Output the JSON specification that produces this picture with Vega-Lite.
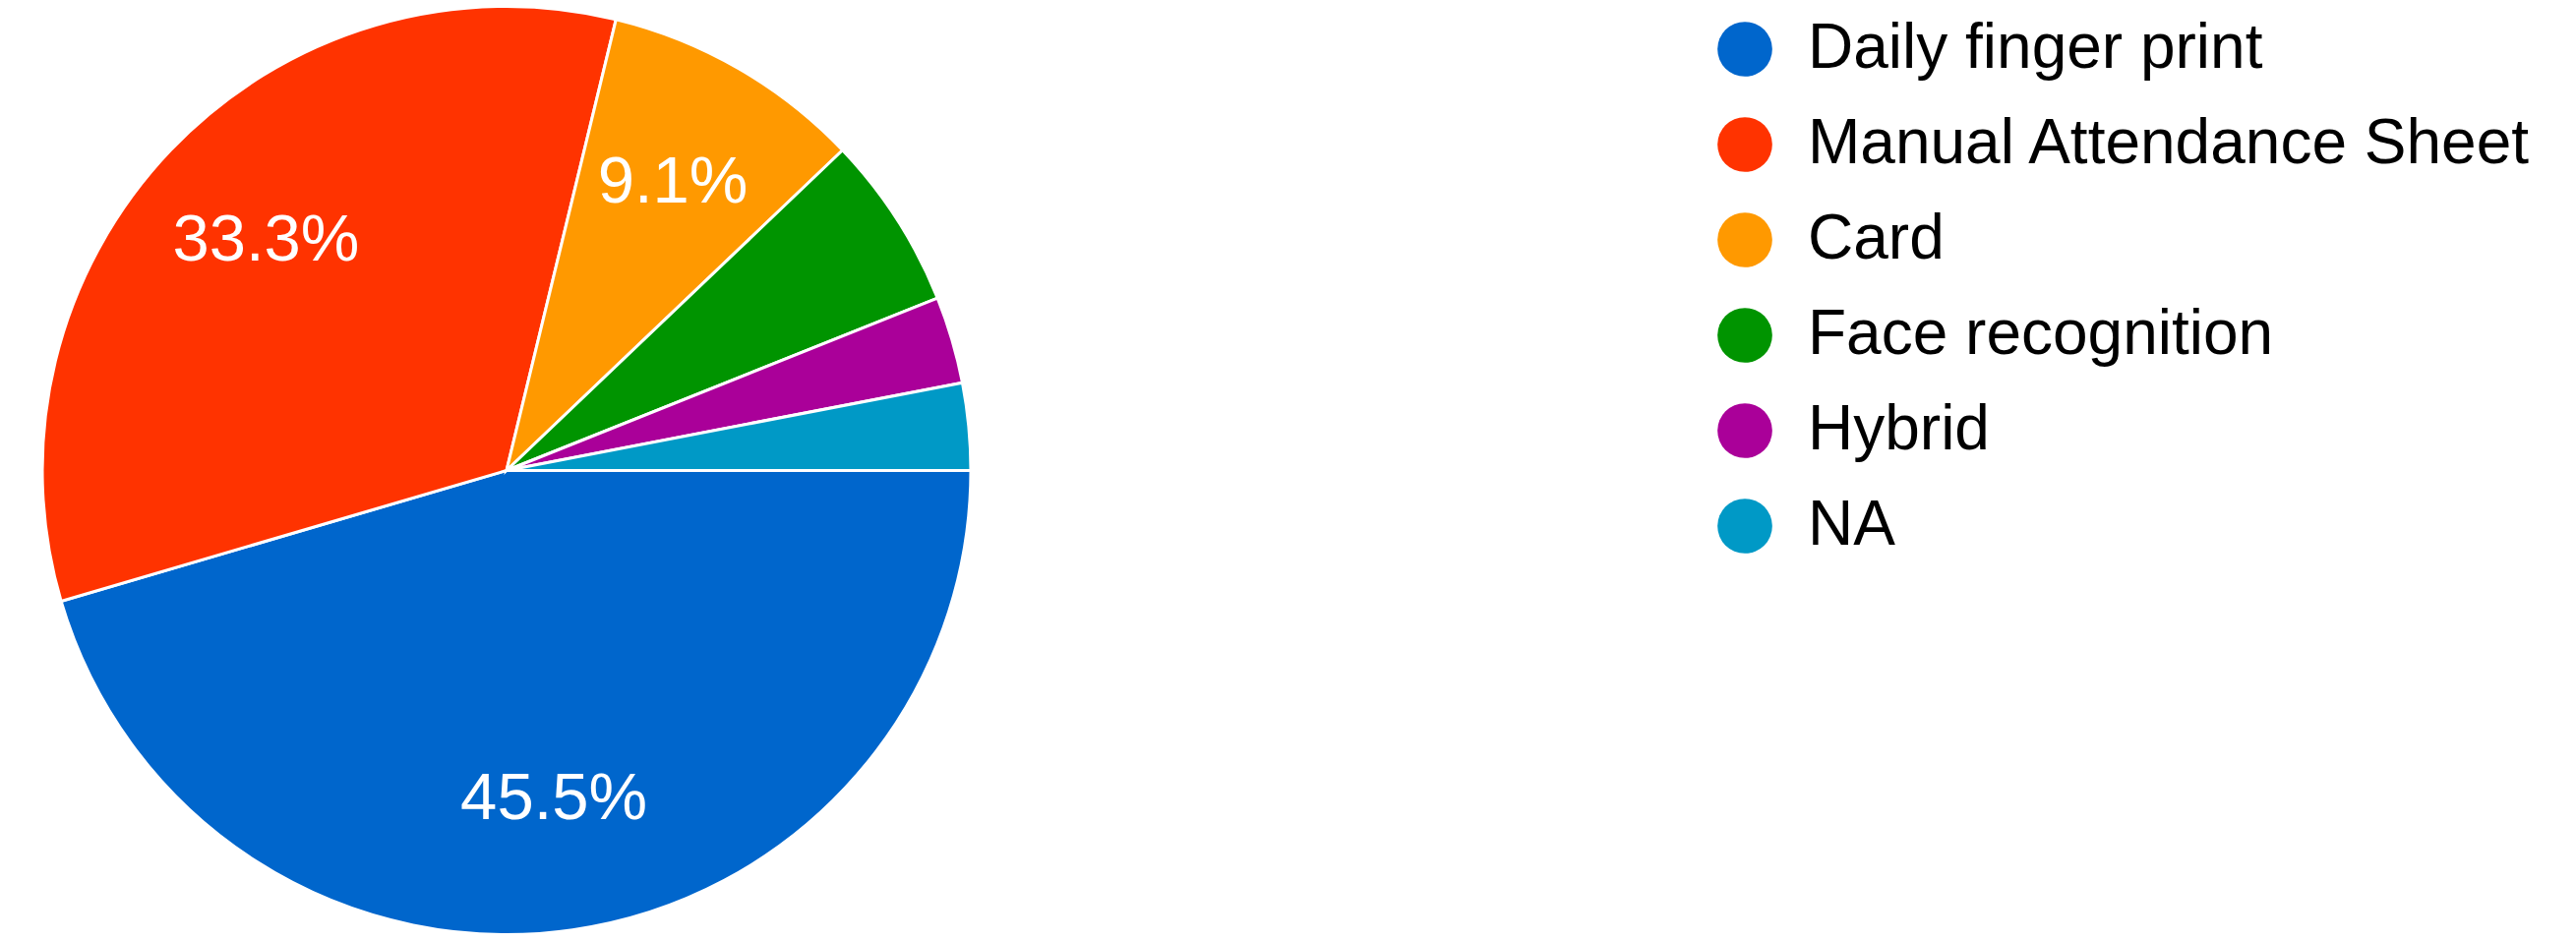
{
  "$schema": "https://vega.github.io/schema/vega-lite/v6.json",
  "width": 1030,
  "height": 957,
  "padding": 0,
  "autosize": {"type": "pad"},
  "background": "white",
  "config": {"view": {"stroke": null}},
  "data": {
    "values": [
      {"method": "Daily finger print", "count": 15, "rank": 1, "label": "45.5%"},
      {"method": "Manual Attendance Sheet", "count": 11, "rank": 2, "label": "33.3%"},
      {"method": "Card", "count": 3, "rank": 3, "label": "9.1%"},
      {"method": "Face recognition", "count": 2, "rank": 4, "label": ""},
      {"method": "Hybrid", "count": 1, "rank": 5, "label": ""},
      {"method": "NA", "count": 1, "rank": 6, "label": ""}
    ]
  },
  "encoding": {
    "theta": {"field": "count", "type": "quantitative", "stack": true, "scale": {"range": [1.5708, 7.854]}},
    "order": {"field": "rank", "type": "quantitative"}
  },
  "layer": [
    {
      "mark": {"type": "arc", "outerRadius": 472, "stroke": "white", "strokeWidth": 3},
      "encoding": {
        "color": {
          "field": "method",
          "type": "nominal",
          "sort": ["Daily finger print", "Manual Attendance Sheet", "Card", "Face recognition", "Hybrid", "NA"],
          "scale": {
            "domain": ["Daily finger print", "Manual Attendance Sheet", "Card", "Face recognition", "Hybrid", "NA"],
            "range": ["#0066cc", "#ff3300", "#ff9900", "#009400", "#aa0099", "#0099c6"]
          },
          "legend": {
            "title": null,
            "orient": "none",
            "legendX": 1742,
            "legendY": 18,
            "padding": 0,
            "symbolType": "circle",
            "symbolSize": 3100,
            "symbolStrokeWidth": 0,
            "symbolOpacity": 1,
            "labelFont": "Liberation Sans",
            "labelFontSize": 64,
            "labelColor": "#000000",
            "labelOffset": 32,
            "rowPadding": 33,
            "labelLimit": 1000
          }
        }
      }
    },
    {
      "mark": {"type": "text", "radius": 338, "font": "Liberation Sans", "fontSize": 67},
      "encoding": {
        "text": {"field": "label"},
        "color": {"value": "white"}
      }
    }
  ]
}
